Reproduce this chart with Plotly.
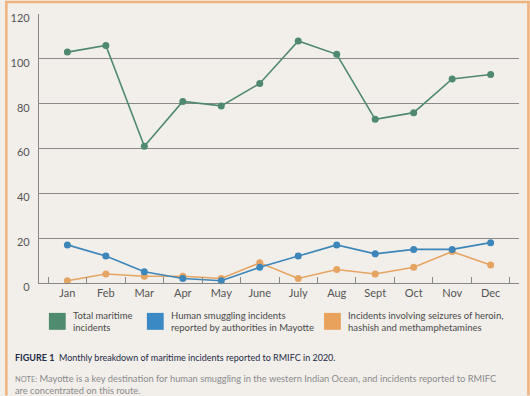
import plotly.graph_objects as go

months = ["Jan", "Feb", "Mar", "Apr", "May", "June", "July", "Aug", "Sept", "Oct", "Nov", "Dec"]
total_maritime = [103, 106, 61, 81, 79, 89, 108, 102, 73, 76, 91, 93]
human_smuggling = [17, 12, 5, 2, 1, 7, 12, 17, 13, 15, 15, 18]
drug_seizures = [1, 4, 3, 3, 2, 9, 2, 6, 4, 7, 14, 8]
y_ticks = [0, 20, 40, 60, 80, 100, 120]

series_names = ["Total maritime<br>incidents",
                "Human smuggling incidents<br>reported by authorities in Mayotte",
                "Incidents involving seizures of heroin,<br>hashish and methamphetamines"]
series_colors = ["#4f8a6e", "#3d86ba", "#e6a462"]
legend_colors = ["#4e8c6d", "#3a88c4", "#e9a25c"]

caption = "<b>FIGURE 1</b>  Monthly breakdown of maritime incidents reported to RMIFC in 2020."
note = ("<span style='font-size:7.5px'>NOTE:</span> Mayotte is a key destination for human smuggling in the western Indian Ocean, and incidents reported to RMIFC"
        "<br>are concentrated on this route.")

W, H = 530, 396
L, R, T, B = 34, 519, 13, 283

def px(x):
    return (x - L) / (R - L)

def py(y):
    return (B - y) / (B - T)

fig = go.Figure()
for vals, name, col in zip([drug_seizures, human_smuggling, total_maritime], series_names[::-1], series_colors[::-1]):
    fig.add_trace(go.Scatter(x=months, y=vals, mode="lines+markers", name=name,
                             line=dict(color=col, width=1.6),
                             marker=dict(color=col, size=7), showlegend=False, cliponaxis=False))

shapes = []
annotations = []
# legend
legend_x = [44, 143, 322]
for lx, nm, col in zip(legend_x, series_names, legend_colors):
    shapes.append(dict(type="rect", xref="paper", yref="paper",
                       x0=px(lx), x1=px(lx + 17), y0=py(330), y1=py(313),
                       fillcolor=col, line=dict(width=0)))
    annotations.append(dict(xref="paper", yref="paper", x=px(lx + 22), y=py(322),
                            xanchor="left", yanchor="middle", text=nm, showarrow=False,
                            align="left", font=dict(family="Lato", size=9.5, color="#4a4a4a")))

annotations.append(dict(xref="paper", yref="paper", x=px(8), y=py(358), xanchor="left", yanchor="middle",
                        text=caption, showarrow=False, align="left",
                        font=dict(family="Lato", size=9.0, color="#1e2a46")))
annotations.append(dict(xref="paper", yref="paper", x=px(8), y=py(385), xanchor="left", yanchor="middle",
                        text=note, showarrow=False, align="left",
                        font=dict(family="Lato", size=9.3, color="#8a8a8a")))

# orange frame
border = "#f0b27c"
shapes.append(dict(type="line", xref="paper", yref="paper", x0=px(1), x1=px(1), y0=py(0), y1=py(H),
                   line=dict(color=border, width=2.5)))
shapes.append(dict(type="line", xref="paper", yref="paper", x0=px(0), x1=px(W), y0=py(1), y1=py(1),
                   line=dict(color=border, width=2.5)))
shapes.append(dict(type="line", xref="paper", yref="paper", x0=px(528.5), x1=px(528.5), y0=py(0), y1=py(H),
                   line=dict(color=border, width=2.5)))

fig.update_layout(
    width=W, height=H,
    margin=dict(l=L, r=W - R, t=T, b=H - B),
    paper_bgcolor="#f2efea", plot_bgcolor="#f2efea",
    font=dict(family="Lato", size=11, color="#555555"),
    shapes=shapes, annotations=annotations,
    xaxis=dict(type="category", categoryorder="array", categoryarray=months,
               showgrid=False, showline=True, linecolor="#888888", linewidth=1.2,
               ticks="inside", tickson="boundaries", ticklen=6, tickcolor="#888888",
               tickfont=dict(family="Lato", size=11, color="#555555"), fixedrange=True),
    yaxis=dict(range=[0, 120], tickvals=y_ticks, showgrid=True, gridcolor="#8a8a8a", gridwidth=1.1,
               showline=True, linecolor="#888888", linewidth=1.2, zeroline=False,
               ticks="", ticklabelstandoff=6, ticklabelshift=4,
               tickfont=dict(family="Lato", size=11, color="#555555"), fixedrange=True),
)

fig.write_html("out.html", config={"displayModeBar": False},
               post_script="document.body.style.margin='0';document.body.style.padding='0';document.body.style.overflow='hidden';")
